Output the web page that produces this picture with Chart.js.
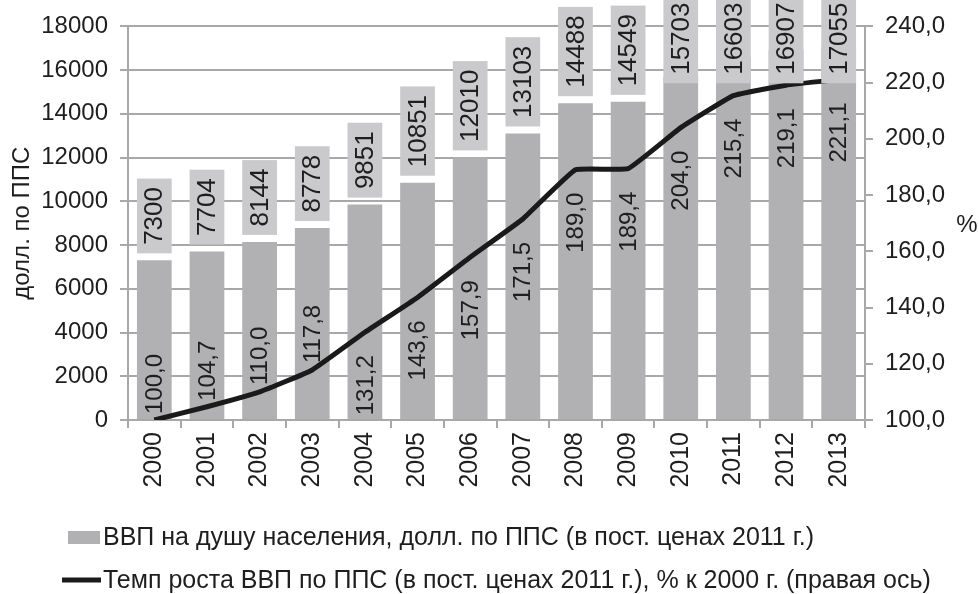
<!DOCTYPE html>
<html>
<head>
<meta charset="utf-8">
<script src="https://cdn.jsdelivr.net/npm/chart.js@4.4.1/dist/chart.umd.min.js"></script>
<style>
  html, body { margin: 0; padding: 0; background: #fff; }
  #wrap { width: 979px; height: 594px; }
</style>
</head>
<body>
<div id="wrap"><canvas id="gdpChart"></canvas></div>
<script>
// data
const years = ['2000', '2001', '2002', '2003', '2004', '2005', '2006', '2007', '2008', '2009', '2010', '2011', '2012', '2013'];
const gdpPerCapita = [7300, 7704, 8144, 8778, 9851, 10851, 12010, 13103, 14488, 14549, 15703, 16603, 16907, 17055];
const growthIndex = [100.0, 104.7, 110.0, 117.8, 131.2, 143.6, 157.9, 171.5, 189.0, 189.4, 204.0, 215.4, 219.1, 221.1];
const leftTicks = [0, 2000, 4000, 6000, 8000, 10000, 12000, 14000, 16000, 18000];
const rightTicks = [100, 120, 140, 160, 180, 200, 220, 240];

const barLabel = 'ВВП на душу населения, долл. по ППС (в пост. ценах 2011 г.)';
const lineLabel = 'Темп роста ВВП по ППС (в пост. ценах 2011 г.), % к 2000 г. (правая ось)';

const FONT = '"Liberation Sans", Arial, sans-serif';
const textColor = '#1e1e1e';
const gridColor = '#a8a8a8';
const barColor = '#b1b1b3';
const boxColor = '#cacacc';
const lineColor = '#1a1a1a';

// where the growth labels sit relative to the line point
const lineLabelSide = ['up', 'up', 'up', 'up', 'down', 'down', 'down', 'down', 'down', 'down', 'down', 'down', 'down', 'down'];

const fmtComma = v => Number(v).toFixed(1).replace('.', ',');

// value labels: boxed numbers above the bars, plain numbers near the line
const labelsPlugin = {
    id: 'valueLabels',
    afterDatasetsDraw(chart) {
        const ctx = chart.ctx;
        const barMeta = chart.getDatasetMeta(0);
        const lineMeta = chart.getDatasetMeta(1);
        ctx.save();
        ctx.font = '26px ' + FONT;
        ctx.textAlign = 'center';
        ctx.textBaseline = 'middle';

        barMeta.data.forEach((bar, i) => {
            const text = String(gdpPerCapita[i]);
            const h = ctx.measureText(text).width + 17;
            const bw = bar.width;
            let top = bar.y - 7 - h;
            if (top < -6) top = -6;
            ctx.fillStyle = boxColor;
            ctx.fillRect(bar.x - bw / 2, top, bw, h);
            ctx.save();
            ctx.translate(bar.x + 1, top + h / 2);
            ctx.rotate(-Math.PI / 2);
            ctx.fillStyle = textColor;
            ctx.fillText(text, 0, 0);
            ctx.restore();
        });

        ctx.font = '24px ' + FONT;
        lineMeta.data.forEach((pt, i) => {
            const text = fmtComma(growthIndex[i]);
            const cy = lineLabelSide[i] === 'up' ? pt.y - 36 : pt.y + 53;
            ctx.save();
            ctx.translate(pt.x + 1, cy);
            ctx.rotate(-Math.PI / 2);
            ctx.fillStyle = textColor;
            ctx.fillText(text, 0, 0);
            ctx.restore();
        });
        ctx.restore();
    },
    afterDraw(chart) {
        const ctx = chart.ctx;
        const ds = chart.data.datasets;
        ctx.save();
        ctx.fillStyle = textColor;
        ctx.font = '24px ' + FONT;
        ctx.textBaseline = 'middle';

        // "%" title of the right axis, upright
        const r = chart.scales.y1;
        ctx.textAlign = 'center';
        ctx.fillText('%', r.right - 12, (r.top + r.bottom) / 2 + 2);

        // legend
        ctx.font = '25px ' + FONT;
        ctx.textAlign = 'left';
        ctx.fillStyle = ds[0].backgroundColor;
        ctx.fillRect(68, 531, 32, 13);
        ctx.fillStyle = textColor;
        ctx.fillText(ds[0].label, 103, 538);

        ctx.strokeStyle = ds[1].borderColor;
        ctx.lineWidth = 5;
        ctx.beginPath();
        ctx.moveTo(62, 580);
        ctx.lineTo(101, 580);
        ctx.stroke();
        ctx.fillText(ds[1].label, 103, 581);
        ctx.restore();
    }
};

Chart.defaults.font.family = FONT;
Chart.defaults.color = textColor;

const ctx = document.getElementById('gdpChart').getContext('2d');
const gdpChart = new Chart(ctx, {
    type: 'bar',
    data: {
        labels: years,
        datasets: [{
            type: 'bar',
            label: barLabel,
            data: gdpPerCapita,
            backgroundColor: barColor,
            borderWidth: 0,
            barPercentage: 0.66,
            categoryPercentage: 1,
            yAxisID: 'y',
            order: 2
        }, {
            type: 'line',
            label: lineLabel,
            data: growthIndex,
            borderColor: lineColor,
            backgroundColor: lineColor,
            borderWidth: 5,
            pointRadius: 0,
            tension: 0.1,
            borderJoinStyle: 'round',
            yAxisID: 'y1',
            order: 1
        }]
    },
    options: {
        responsive: true,
        maintainAspectRatio: false,
        animation: false,
        layout: { padding: { top: 24, bottom: 94, left: 0, right: 0 } },
        plugins: {
            legend: { display: false },
            tooltip: { enabled: false }
        },
        scales: {
            x: {
                grid: { offset: true, drawOnChartArea: false, tickLength: 8, color: gridColor, lineWidth: 2 },
                border: { color: gridColor, width: 2 },
                ticks: { minRotation: 90, maxRotation: 90, padding: 4, font: { size: 25 }, color: textColor },
                afterFit(scale) { scale.height = 80; }
            },
            y: {
                position: 'left',
                min: 0,
                max: 18000,
                afterBuildTicks(scale) { scale.ticks = leftTicks.map(v => ({ value: v })); },
                grid: { color: gridColor, lineWidth: 2, tickLength: 8 },
                border: { color: gridColor, width: 2 },
                ticks: { padding: 12, font: { size: 24 }, color: textColor, callback: v => String(v) },
                title: { display: true, text: 'долл. по ППС', font: { size: 24 }, color: textColor, padding: { top: 8, bottom: 0 } },
                afterFit(scale) { scale.width = 128; }
            },
            y1: {
                position: 'right',
                min: 100,
                max: 240,
                afterBuildTicks(scale) { scale.ticks = rightTicks.map(v => ({ value: v })); },
                grid: { drawOnChartArea: false, color: gridColor, lineWidth: 2, tickLength: 8 },
                border: { color: gridColor, width: 2 },
                ticks: { padding: 12, font: { size: 24 }, color: textColor, callback: v => fmtComma(v) },
                afterFit(scale) { scale.width = 114; }
            }
        }
    },
    plugins: [labelsPlugin]
});
</script>
</body>
</html>
